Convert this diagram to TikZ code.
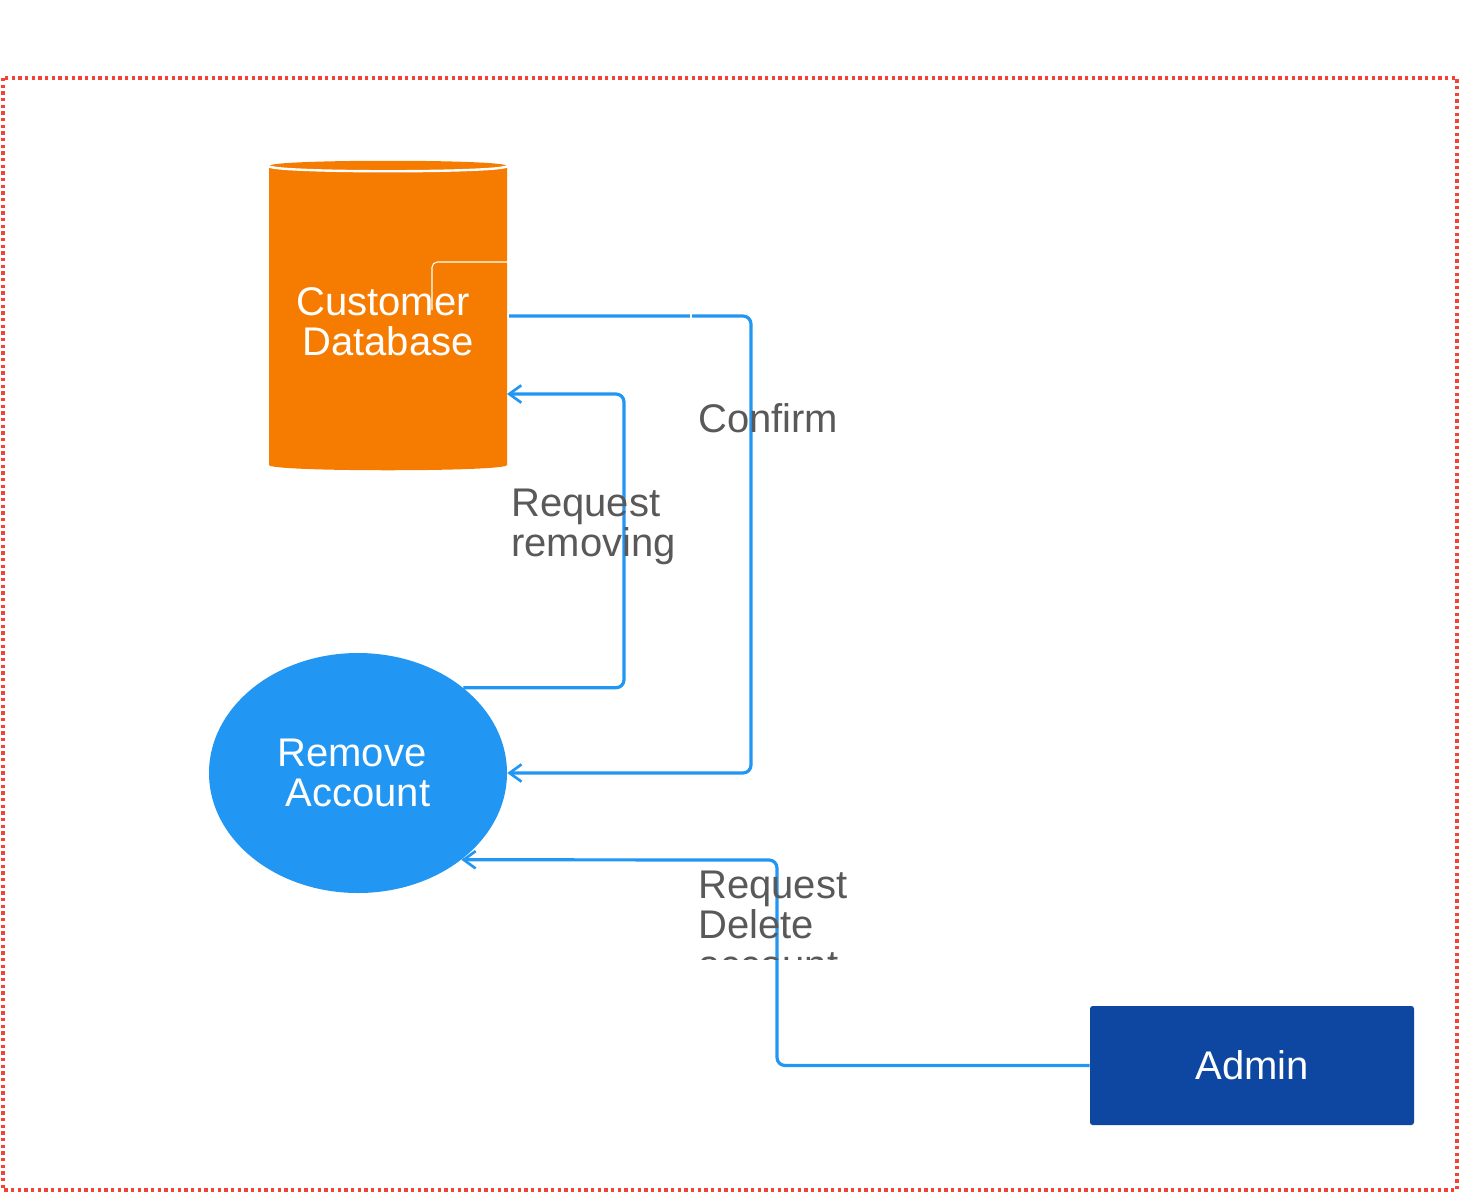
\documentclass[tikz,border=0pt]{standalone}
\usepackage{fontspec}
\setmainfont{Liberation Sans}
\usetikzlibrary{arrows.meta,shapes.geometric}
\definecolor{dbor}{HTML}{F57C00}
\definecolor{flowblue}{HTML}{2196F3}
\definecolor{adminblue}{HTML}{0D47A1}
\definecolor{lblgray}{HTML}{595959}
\definecolor{bordred}{HTML}{F44336}
\begin{document}
\begin{tikzpicture}[x=0.75pt,y=-0.75pt,
  bigtext/.style={font=\fontsize{30pt}{30pt}\selectfont},
  flow/.style={draw=flowblue,line width=2.4pt,rounded corners=6pt,
    -{Straight Barb[length=9pt,width=13pt,line width=2pt]}},
  lbl/.style={bigtext,text=lblgray,inner sep=0pt,align=left,anchor=base west},
  proc/.style={ellipse,fill=flowblue,text=white,bigtext,align=center,
    minimum width={298*0.75pt},minimum height={240*0.75pt},inner sep=0pt},
  ext/.style={rectangle,rounded corners=2pt,fill=adminblue,text=white,bigtext,
    minimum width={324*0.75pt},minimum height={119*0.75pt},inner sep=0pt}]
\useasboundingbox (0,0) rectangle (1460,1193);
% boundary
\draw[bordred,line width=2.6pt,dash pattern=on 2.5pt off 2.5pt]
  (3,78) rectangle (1457,1190);
% data store (cylinder)
\fill[dbor] (269,166) -- (269,465) .. controls (269,472) and (507,472) .. (507,465)
  -- (507,166) .. controls (507,159) and (269,159) .. cycle;
\draw[white,line width=1.8pt] (269,166) .. controls (269,173) and (507,173) .. (507,166);
\draw[white,line width=0.8pt,rounded corners=4pt] (432,310) -- (432,262) -- (507,262);
\node[bigtext,text=white,align=center,inner sep=0pt] (db) at (388,322) {Customer\kern7.5pt\\Database};
\coordinate (dbout) at (509,316);
\coordinate (dbin) at (507,394);
% process
\node[proc] (ra) at (358,773) {Remove\kern9pt\\Account};
% external entity
\node[ext] (admin) at (1252,1065.5) {Admin};
% flows
\coordinate (c1) at (751,773);
\coordinate (c2) at (624,394);
\coordinate (c3) at (777,860);
\draw[flow] (dbout) -| (c1) -- (ra.east);
\draw[white,line width=1.2pt] (691,312) -- (691,320);
\draw[flow] (ra.39.5) -| (c2) -- (dbin);
\draw[flow] (admin.west) -| (c3) -- (ra.-40);
% labels
\node[lbl] (lconfirm) at (698,432) {Confirm};
\node[lbl] (lremove) at (511,556) {Request\\removing};
\begin{scope}
\clip (680,840) rectangle (900,959);
\node[lbl] (ldelete) at (698,978) {Request\\Delete\\account};
\end{scope}
\end{tikzpicture}
\end{document}
